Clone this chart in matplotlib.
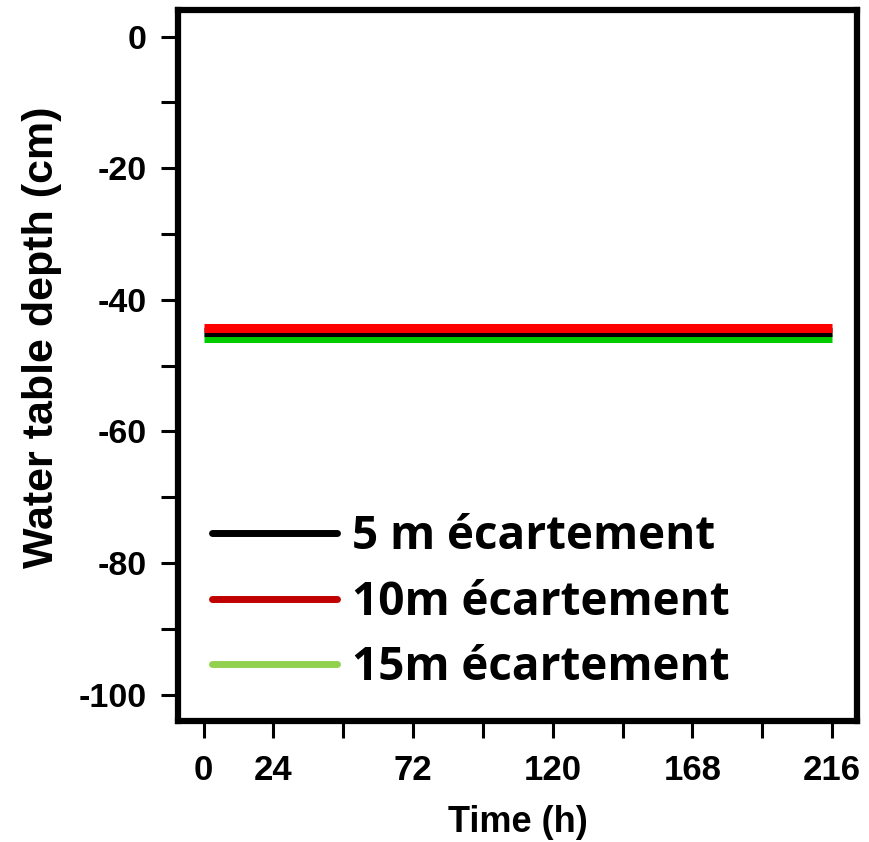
import matplotlib

matplotlib.use("Agg")
import matplotlib.pyplot as plt
from matplotlib.lines import Line2D

# Simulated water table depth for three drain spacings (flat over the run)
time_h = [0, 216]
depth_5m = [-44.9, -44.9]
depth_10m = [-44.2, -44.2]
depth_15m = [-45.8, -45.8]

labels = ["5 m écartement", "10m écartement", "15m écartement"]
legend_colors = ["#000000", "#c00000", "#92d050"]

x_ticks = list(range(0, 217, 24))
x_tick_labels = ["0", "24", "", "72", "", "120", "", "168", "", "216"]
y_ticks = list(range(-100, 1, 10))
y_tick_labels = [str(v) if v % 20 == 0 else "" for v in y_ticks]

plt.rcParams["font.family"] = ["Liberation Sans", "DejaVu Sans"]
plt.rcParams["font.weight"] = "bold"

fig = plt.figure(figsize=(8.69, 8.42), dpi=100)
ax = fig.add_axes([0.2054, 0.1437, 0.7810, 0.8440])

# draw order: green under black under red
ax.plot(time_h, depth_15m, color="#00cc00", lw=6.5, solid_capstyle="butt", zorder=2)
ax.plot(time_h, depth_5m, color="black", lw=6.5, solid_capstyle="butt", zorder=3)
ax.plot(time_h, depth_10m, color="#ff0000", lw=6.5, solid_capstyle="butt", zorder=4)

ax.set_xlim(-8.64, 224.64)
ax.set_ylim(-104, 4)
ax.set_xticks(x_ticks)
ax.set_xticklabels(x_tick_labels, fontsize=25, fontweight="bold")
ax.set_yticks(y_ticks)
ax.set_yticklabels(y_tick_labels, fontsize=24.5, fontweight="bold")
ax.tick_params(axis="both", direction="out", length=12, width=2.2, colors="black")
ax.tick_params(axis="x", pad=12)
ax.tick_params(axis="y", pad=11)
for sp in ax.spines.values():
    sp.set_linewidth(4.5)

ax.set_xlabel("Time (h)", fontsize=26, fontweight="bold", labelpad=13)
ax.set_ylabel("Water table depth (cm)", fontsize=31, fontweight="bold")
ax.yaxis.set_label_coords(-0.172, 0.54)

handles = [Line2D([0], [0], color=c, lw=5, solid_capstyle="round") for c in legend_colors]
ax.legend(handles, labels, loc="lower left", bbox_to_anchor=(-0.012, -0.016),
          frameon=False, handlelength=2.73, handletextpad=0.33, labelspacing=0.4,
          prop={"family": "Open Sans", "weight": "bold", "size": 33})

fig.savefig("out.png", dpi=100)
